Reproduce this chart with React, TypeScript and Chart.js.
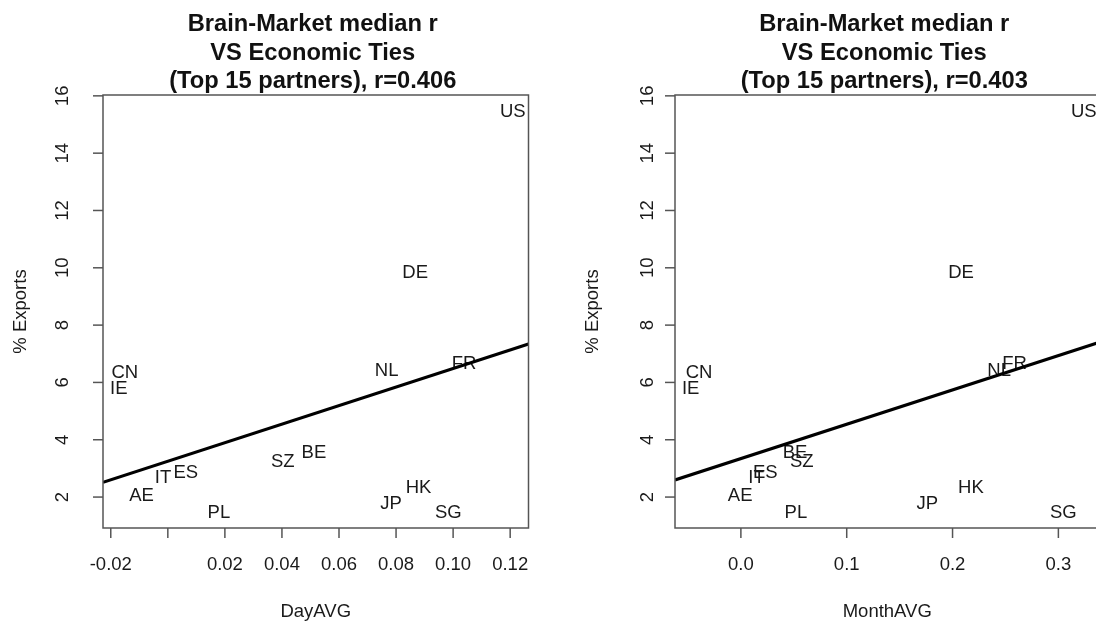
import React, { useEffect, useRef } from 'react';
import { Chart, registerables } from 'chart.js';

Chart.register(...registerables);

// ---------- data ----------
const countries = ['US', 'DE', 'FR', 'NL', 'CN', 'IE', 'BE', 'SZ', 'ES', 'IT', 'AE', 'HK', 'JP', 'SG', 'PL'];
const dayAvg = [0.1209, 0.0867, 0.1038, 0.0767, -0.0151, -0.0172, 0.0512, 0.0403, 0.0063, -0.0017, -0.0092, 0.0879, 0.0782, 0.0983, 0.0179];
const monthAvg = [0.324, 0.208, 0.2586, 0.244, -0.0395, -0.0474, 0.0511, 0.0576, 0.0231, 0.0148, -0.0007, 0.2174, 0.1762, 0.3047, 0.052];
const exportsPct = [15.47, 9.84, 6.67, 6.44, 6.38, 5.82, 3.57, 3.25, 2.87, 2.71, 2.08, 2.37, 1.79, 1.48, 1.48];

const dayTicks = [-0.02, 0, 0.02, 0.04, 0.06, 0.08, 0.1, 0.12];
const dayTickLabels = ['-0.02', '', '0.02', '0.04', '0.06', '0.08', '0.10', '0.12'];
const monthTicks = [0, 0.1, 0.2, 0.3];
const monthTickLabels = ['0.0', '0.1', '0.2', '0.3'];
const yTicks = [2, 4, 6, 8, 10, 12, 14, 16];
const yTickLabels = ['2', '4', '6', '8', '10', '12', '14', '16'];

const titleLines1 = ['Brain-Market median r', 'VS Economic Ties', '(Top 15 partners), r=0.406'];
const titleLines2 = ['Brain-Market median r', 'VS Economic Ties', '(Top 15 partners), r=0.403'];
const xTitle1 = 'DayAVG';
const xTitle2 = 'MonthAVG';
const yTitle = '% Exports';

const FONT = '"Liberation Sans", Arial, Helvetica, sans-serif';

function rangeR(v: number[]) {
  const mn = Math.min(...v);
  const mx = Math.max(...v);
  const d = (mx - mn) * 0.04;
  return [mn - d, mx + d];
}

function ols(xs: number[], ys: number[]) {
  const n = xs.length;
  const mx = xs.reduce((a, b) => a + b, 0) / n;
  const my = ys.reduce((a, b) => a + b, 0) / n;
  let sxy = 0;
  let sxx = 0;
  for (let i = 0; i < n; i++) {
    sxy += (xs[i] - mx) * (ys[i] - my);
    sxx += (xs[i] - mx) * (xs[i] - mx);
  }
  const b = sxy / sxx;
  return { a: my - b * mx, b };
}

const rPlotPlugin = {
  id: 'rplot',
  beforeDatasetsDraw(chart: any, _args: any, opts: any) {
    const ctx = chart.ctx;
    const meta = chart.getDatasetMeta(0);
    ctx.save();
    ctx.fillStyle = '#1a1a1a';
    ctx.font = `18.5px ${FONT}`;
    ctx.textAlign = 'center';
    ctx.textBaseline = 'middle';
    meta.data.forEach((el: any, i: number) => {
      ctx.fillText(opts.labels[i], el.x, el.y + 1);
    });
    ctx.restore();
  },
  afterDraw(chart: any, _args: any, opts: any) {
    const ctx = chart.ctx;
    const { left, right, top, bottom } = chart.chartArea;
    const xs = chart.scales.x;
    const ys = chart.scales.y;
    ctx.save();
    // box
    ctx.strokeStyle = '#555';
    ctx.lineWidth = 1.5;
    ctx.strokeRect(left, top, right - left, bottom - top);
    // x ticks
    ctx.fillStyle = '#1a1a1a';
    ctx.font = `18.5px ${FONT}`;
    ctx.textAlign = 'center';
    ctx.textBaseline = 'middle';
    opts.xTicks.forEach((t: number, i: number) => {
      const px = xs.getPixelForValue(t);
      ctx.beginPath();
      ctx.moveTo(px, bottom);
      ctx.lineTo(px, bottom + 10);
      ctx.stroke();
      if (opts.xTickLabels[i]) ctx.fillText(opts.xTickLabels[i], px, bottom + 37);
    });
    // y ticks
    opts.yTicks.forEach((t: number, i: number) => {
      const py = ys.getPixelForValue(t);
      ctx.beginPath();
      ctx.moveTo(left, py);
      ctx.lineTo(left - 10, py);
      ctx.stroke();
      ctx.save();
      ctx.translate(left - opts.yLabelGap, py);
      ctx.rotate(-Math.PI / 2);
      ctx.fillText(opts.yTickLabels[i], 0, 0);
      ctx.restore();
    });
    // axis titles
    ctx.fillText(opts.xTitle, (left + right) / 2, bottom + 84);
    ctx.save();
    ctx.translate(left - 82, (top + bottom) / 2);
    ctx.rotate(-Math.PI / 2);
    ctx.fillText(opts.yTitle, 0, 0);
    ctx.restore();
    // main title
    ctx.font = `bold 23.7px ${FONT}`;
    ctx.fillStyle = '#111';
    const cy = [24.5, 53, 81.5];
    opts.title.forEach((line: string, i: number) => {
      ctx.fillText(line, (left + right) / 2 - 3, cy[i]);
    });
    ctx.restore();
  },
};

function makeConfig(
  xVals: number[],
  pad: any,
  xTicks: number[],
  xTickLabels: string[],
  title: string[],
  xTitle: string,
  yLabelGap: number
) {
  const [xmin, xmax] = rangeR(xVals);
  const [ymin, ymax] = rangeR(exportsPct);
  const fit = ols(xVals, exportsPct);
  return {
    type: 'scatter',
    data: {
      datasets: [
        {
          data: xVals.map((x, i) => ({ x, y: exportsPct[i] })),
          pointRadius: 0,
          pointHoverRadius: 0,
        },
        {
          data: [
            { x: xmin, y: fit.a + fit.b * xmin },
            { x: xmax, y: fit.a + fit.b * xmax },
          ],
          showLine: true,
          borderColor: '#000',
          borderWidth: 3.2,
          pointRadius: 0,
          pointHoverRadius: 0,
        },
      ],
    },
    options: {
      responsive: false,
      animation: false,
      devicePixelRatio: 1,
      layout: { padding: pad },
      events: [],
      scales: {
        x: { type: 'linear', min: xmin, max: xmax, display: false },
        y: { type: 'linear', min: ymin, max: ymax, display: false },
      },
      plugins: {
        legend: { display: false },
        tooltip: { enabled: false },
        rplot: {
          labels: countries,
          xTicks,
          xTickLabels,
          yTicks,
          yTickLabels,
          title,
          xTitle,
          yTitle,
          yLabelGap,
        },
      },
    },
    plugins: [rPlotPlugin],
  } as any;
}

export default function App() {
  const ref1 = useRef<HTMLCanvasElement>(null);
  const ref2 = useRef<HTMLCanvasElement>(null);

  useEffect(() => {
    const c1 = new Chart(
      ref1.current!,
      makeConfig(dayAvg, { left: 103, right: 19.5, top: 95, bottom: 96 }, dayTicks, dayTickLabels, titleLines1, xTitle1, 40)
    );
    const c2 = new Chart(
      ref2.current!,
      makeConfig(monthAvg, { left: 127, right: 8.5, top: 95, bottom: 96 }, monthTicks, monthTickLabels, titleLines2, xTitle2, 27)
    );
    return () => {
      c1.destroy();
      c2.destroy();
    };
  }, []);

  return (
    <div style={{ position: 'fixed', left: 0, top: 0, width: 1096, height: 624, overflow: 'hidden', background: '#fff' }}>
      <canvas ref={ref1} width={548} height={624} style={{ position: 'absolute', left: 0, top: 0, width: 548, height: 624 }} />
      <canvas ref={ref2} width={560} height={624} style={{ position: 'absolute', left: 548, top: 0, width: 560, height: 624 }} />
    </div>
  );
}
